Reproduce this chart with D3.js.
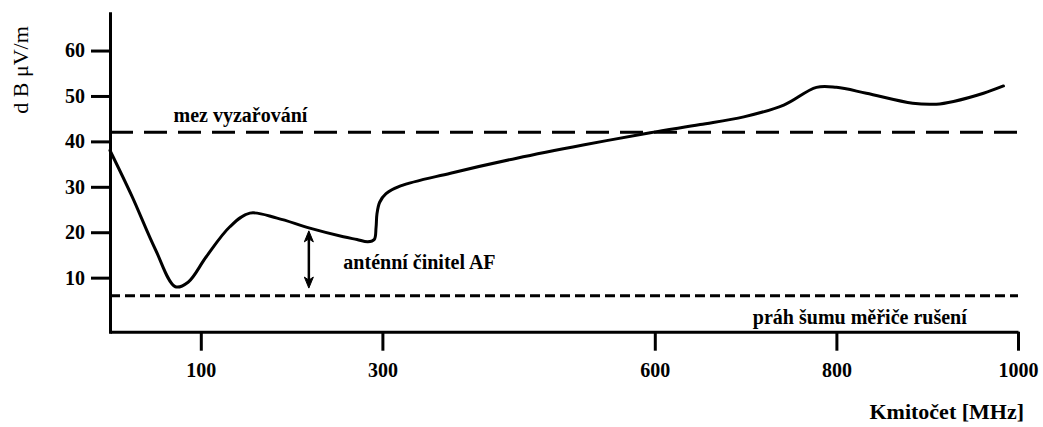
<!DOCTYPE html>
<html>
<head>
<meta charset="utf-8">
<script src="https://cdn.jsdelivr.net/npm/d3@7"></script>
<style>
  html, body { margin: 0; padding: 0; background: #fff; }
</style>
</head>
<body>
<svg id="chart" width="1043" height="427"></svg>
<script>
// ---- data ----
const freqMHz = [0, 24, 50, 72, 86, 106, 132, 154, 184, 220, 257, 272, 284, 291, 293, 294, 297, 304, 320, 375, 448, 521, 595, 650, 698, 742, 778, 800, 833, 884, 910, 929, 962, 984];
const levelDb = [38, 28.0, 16.2, 8.0, 9.0, 14.6, 21.2, 24.2, 23.1, 20.9, 19.0, 18.4, 17.9, 18.4, 21.0, 24.0, 26.6, 28.5, 30.2, 33.0, 36.3, 39.2, 41.9, 43.7, 45.4, 48.0, 51.9, 51.9, 50.6, 48.4, 48.2, 48.8, 50.6, 52.2];
const xTicks = [100, 300, 600, 800, 1000];
const yTicks = [10, 20, 30, 40, 50, 60];
const emissionLimit = 42;     // mez vyzařování
const noiseFloor = 6;         // práh šumu měřiče rušení
const afArrow = [219, 20.3, 7.7]; // frequency, top level, bottom level
const labels = {
  yTitle: "d B \u03BCV/m",
  xTitle: "Kmitočet [MHz]",
  limit: "mez vyzařování",
  af: "anténní činitel AF",
  noise: "práh šumu měřiče rušení"
};

const FONT = "'Liberation Serif', 'Times New Roman', 'DejaVu Serif', serif";

// ---- scales ----
const svg = d3.select("#chart");
const x = d3.scaleLinear().domain([0, 1000]).range([110, 1018]);
const y = d3.scaleLinear().domain([-1.9, 68.2]).range([331.7, 13.3]);

// ---- axes ----
const yAxis = d3.axisLeft(y).tickValues(yTicks).tickSize(19).tickSizeOuter(0).tickPadding(6).tickFormat(d3.format("d"));
const gy = svg.append("g").attr("transform", `translate(${x(0)},0)`).call(yAxis);
const xAxis = d3.axisBottom(x).tickValues(xTicks).tickSize(19).tickSizeOuter(0).tickPadding(12).tickFormat(d3.format("d"));
const gx = svg.append("g").attr("transform", `translate(0,${y(-1.9)})`).call(xAxis);
[gx, gy].forEach(g => {
  g.attr("font-family", null).attr("font-size", null);
  g.select(".domain").attr("stroke", "#000").attr("stroke-width", 3);
  g.selectAll(".tick line").attr("stroke", "#000").attr("stroke-width", 3);
  g.selectAll(".tick text").style("font-family", FONT).style("font-size", "20px")
    .style("font-weight", "bold").attr("fill", "#000");
});
gy.select(".domain").attr("stroke-linecap", "square");

// ---- reference lines ----
svg.append("line")
  .attr("x1", x(0)).attr("x2", x(1000))
  .attr("y1", y(emissionLimit)).attr("y2", y(emissionLimit))
  .attr("stroke", "#000").attr("stroke-width", 3).attr("stroke-dasharray", "23,11");
svg.append("line")
  .attr("x1", x(0)).attr("x2", x(1000))
  .attr("y1", y(noiseFloor)).attr("y2", y(noiseFloor))
  .attr("stroke", "#000").attr("stroke-width", 3).attr("stroke-dasharray", "10,5");

// ---- curve ----
const pts = freqMHz.map((f, i) => [f, levelDb[i]]);
const line = d3.line().x(d => x(d[0])).y(d => y(d[1])).curve(d3.curveCatmullRom.alpha(0.5));
svg.append("path").datum(pts).attr("d", line)
  .attr("fill", "none").attr("stroke", "#000").attr("stroke-width", 3)
  .attr("stroke-linejoin", "round").attr("stroke-linecap", "round");

// ---- AF arrow ----
const ax = x(afArrow[0]), ay1 = y(afArrow[1]), ay2 = y(afArrow[2]);
svg.append("line").attr("x1", ax).attr("x2", ax).attr("y1", ay1 + 4).attr("y2", ay2 - 4)
  .attr("stroke", "#000").attr("stroke-width", 2.5);
svg.append("path")
  .attr("d", `M${ax},${ay1} L${ax - 4.5},${ay1 + 11} L${ax},${ay1 + 8} L${ax + 4.5},${ay1 + 11} Z`)
  .attr("fill", "#000").attr("stroke", "#000").attr("stroke-width", 1);
svg.append("path")
  .attr("d", `M${ax},${ay2} L${ax - 4.5},${ay2 - 11} L${ax},${ay2 - 8} L${ax + 4.5},${ay2 - 11} Z`)
  .attr("fill", "#000").attr("stroke", "#000").attr("stroke-width", 1);

// ---- annotations ----
function label(txt, size, weight) {
  return svg.append("text").style("font-family", FONT).style("font-size", size + "px")
    .style("font-weight", weight).attr("fill", "#000").text(txt);
}
label(labels.limit, 20, "bold").attr("x", x(70)).attr("y", y(44.2));
label(labels.af, 20, "bold").attr("x", x(257)).attr("y", y(11.9));
label(labels.noise, 20, "bold").attr("x", x(708)).attr("y", y(-0.1));
label(labels.xTitle, 22, "bold").attr("x", 1024).attr("y", 419).attr("text-anchor", "end");
label(labels.yTitle, 22, "normal").attr("transform", "translate(28,70) rotate(-90)").attr("text-anchor", "middle");
</script>
</body>
</html>
